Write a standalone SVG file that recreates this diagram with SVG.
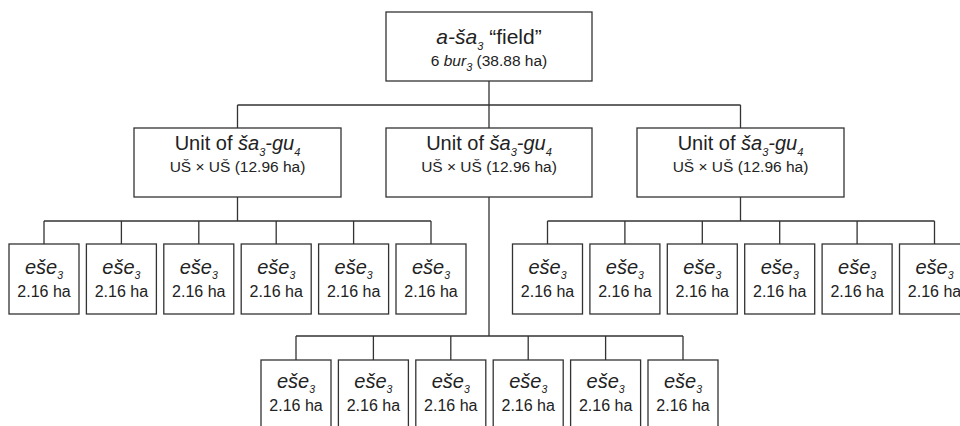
<svg xmlns="http://www.w3.org/2000/svg" width="960" height="426" viewBox="0 0 960 426">
<style>
.box{fill:#fff;stroke:#333;stroke-width:1.3}
.ln{fill:none;stroke:#333;stroke-width:1.3}
text{font-family:"Liberation Sans",Arial,sans-serif;fill:#222;text-anchor:middle}
.t1{font-size:21px}
.t2{font-size:15.5px}
.m1{font-size:20px}
.l1{font-size:20px}
.l2{font-size:16px}
.i{font-style:italic}
.s{font-size:11px;font-style:italic}
.l1 .s{font-size:10.5px}
</style>
<rect width="960" height="426" fill="#fff"/>
<g id="connectors">
<path class="ln" d="M489 81V105M237.5 105H740.5M237.5 105V128M489 105V128M740.5 105V128"/>
<path class="ln" d="M237.5 197V221M44 221H431M44 221V244M121.4 221V244M198.8 221V244M276.2 221V244M353.6 221V244M431 221V244"/>
<path class="ln" d="M740.5 197V221M547.5 221H934.5M547.5 221V244M624.9 221V244M702.3 221V244M779.7 221V244M857.1 221V244M934.5 221V244"/>
<path class="ln" d="M489 197V336M296 336H683M296 336V360M373.4 336V360M450.8 336V360M528.2 336V360M605.6 336V360M683 336V360"/>
</g>
<g id="field">
<rect class="box" x="386" y="12" width="206" height="69"/>
<text class="t1" x="489" y="44"><tspan class="i">a-ša</tspan><tspan class="s" dy="6">3</tspan><tspan dy="-6"> “field”</tspan></text>
<text class="t2" x="489" y="66">6 <tspan class="i">bur</tspan><tspan class="s" dy="5" font-size="10">3</tspan><tspan dy="-5"> (38.88 ha)</tspan></text>
</g>
<g id="unit-left">
<rect class="box" x="134" y="128" width="207" height="69"/>
<text class="m1" x="237.5" y="150">Unit of <tspan class="i">ša</tspan><tspan class="s" dy="6">3</tspan><tspan class="i" dy="-6">-gu</tspan><tspan class="s" dy="6">4</tspan></text>
<text class="t2" x="237.5" y="172">UŠ × UŠ (12.96 ha)</text>
</g>
<g id="unit-middle">
<rect class="box" x="386" y="128" width="206" height="69"/>
<text class="m1" x="489" y="150">Unit of <tspan class="i">ša</tspan><tspan class="s" dy="6">3</tspan><tspan class="i" dy="-6">-gu</tspan><tspan class="s" dy="6">4</tspan></text>
<text class="t2" x="489" y="172">UŠ × UŠ (12.96 ha)</text>
</g>
<g id="unit-right">
<rect class="box" x="637" y="128" width="207" height="69"/>
<text class="m1" x="740.5" y="150">Unit of <tspan class="i">ša</tspan><tspan class="s" dy="6">3</tspan><tspan class="i" dy="-6">-gu</tspan><tspan class="s" dy="6">4</tspan></text>
<text class="t2" x="740.5" y="172">UŠ × UŠ (12.96 ha)</text>
</g>
<g id="ese-l1"><rect class="box" x="9" y="244" width="70" height="70"/><text class="l1" x="44" y="274"><tspan class="i">eše</tspan><tspan class="s" dy="5">3</tspan></text><text class="l2" x="44" y="296.5">2.16 ha</text></g>
<g id="ese-l2"><rect class="box" x="86.4" y="244" width="70" height="70"/><text class="l1" x="121.4" y="274"><tspan class="i">eše</tspan><tspan class="s" dy="5">3</tspan></text><text class="l2" x="121.4" y="296.5">2.16 ha</text></g>
<g id="ese-l3"><rect class="box" x="163.8" y="244" width="70" height="70"/><text class="l1" x="198.8" y="274"><tspan class="i">eše</tspan><tspan class="s" dy="5">3</tspan></text><text class="l2" x="198.8" y="296.5">2.16 ha</text></g>
<g id="ese-l4"><rect class="box" x="241.2" y="244" width="70" height="70"/><text class="l1" x="276.2" y="274"><tspan class="i">eše</tspan><tspan class="s" dy="5">3</tspan></text><text class="l2" x="276.2" y="296.5">2.16 ha</text></g>
<g id="ese-l5"><rect class="box" x="318.6" y="244" width="70" height="70"/><text class="l1" x="353.6" y="274"><tspan class="i">eše</tspan><tspan class="s" dy="5">3</tspan></text><text class="l2" x="353.6" y="296.5">2.16 ha</text></g>
<g id="ese-l6"><rect class="box" x="396" y="244" width="70" height="70"/><text class="l1" x="431" y="274"><tspan class="i">eše</tspan><tspan class="s" dy="5">3</tspan></text><text class="l2" x="431" y="296.5">2.16 ha</text></g>
<g id="ese-r1"><rect class="box" x="512.5" y="244" width="70" height="70"/><text class="l1" x="547.5" y="274"><tspan class="i">eše</tspan><tspan class="s" dy="5">3</tspan></text><text class="l2" x="547.5" y="296.5">2.16 ha</text></g>
<g id="ese-r2"><rect class="box" x="589.9" y="244" width="70" height="70"/><text class="l1" x="624.9" y="274"><tspan class="i">eše</tspan><tspan class="s" dy="5">3</tspan></text><text class="l2" x="624.9" y="296.5">2.16 ha</text></g>
<g id="ese-r3"><rect class="box" x="667.3" y="244" width="70" height="70"/><text class="l1" x="702.3" y="274"><tspan class="i">eše</tspan><tspan class="s" dy="5">3</tspan></text><text class="l2" x="702.3" y="296.5">2.16 ha</text></g>
<g id="ese-r4"><rect class="box" x="744.7" y="244" width="70" height="70"/><text class="l1" x="779.7" y="274"><tspan class="i">eše</tspan><tspan class="s" dy="5">3</tspan></text><text class="l2" x="779.7" y="296.5">2.16 ha</text></g>
<g id="ese-r5"><rect class="box" x="822.1" y="244" width="70" height="70"/><text class="l1" x="857.1" y="274"><tspan class="i">eše</tspan><tspan class="s" dy="5">3</tspan></text><text class="l2" x="857.1" y="296.5">2.16 ha</text></g>
<g id="ese-r6"><rect class="box" x="899.5" y="244" width="70" height="70"/><text class="l1" x="934.5" y="274"><tspan class="i">eše</tspan><tspan class="s" dy="5">3</tspan></text><text class="l2" x="934.5" y="296.5">2.16 ha</text></g>
<g id="ese-b1"><rect class="box" x="261" y="360" width="70" height="70"/><text class="l1" x="296" y="388"><tspan class="i">eše</tspan><tspan class="s" dy="5">3</tspan></text><text class="l2" x="296" y="410.5">2.16 ha</text></g>
<g id="ese-b2"><rect class="box" x="338.4" y="360" width="70" height="70"/><text class="l1" x="373.4" y="388"><tspan class="i">eše</tspan><tspan class="s" dy="5">3</tspan></text><text class="l2" x="373.4" y="410.5">2.16 ha</text></g>
<g id="ese-b3"><rect class="box" x="415.8" y="360" width="70" height="70"/><text class="l1" x="450.8" y="388"><tspan class="i">eše</tspan><tspan class="s" dy="5">3</tspan></text><text class="l2" x="450.8" y="410.5">2.16 ha</text></g>
<g id="ese-b4"><rect class="box" x="493.2" y="360" width="70" height="70"/><text class="l1" x="528.2" y="388"><tspan class="i">eše</tspan><tspan class="s" dy="5">3</tspan></text><text class="l2" x="528.2" y="410.5">2.16 ha</text></g>
<g id="ese-b5"><rect class="box" x="570.6" y="360" width="70" height="70"/><text class="l1" x="605.6" y="388"><tspan class="i">eše</tspan><tspan class="s" dy="5">3</tspan></text><text class="l2" x="605.6" y="410.5">2.16 ha</text></g>
<g id="ese-b6"><rect class="box" x="648" y="360" width="70" height="70"/><text class="l1" x="683" y="388"><tspan class="i">eše</tspan><tspan class="s" dy="5">3</tspan></text><text class="l2" x="683" y="410.5">2.16 ha</text></g>
</svg>
